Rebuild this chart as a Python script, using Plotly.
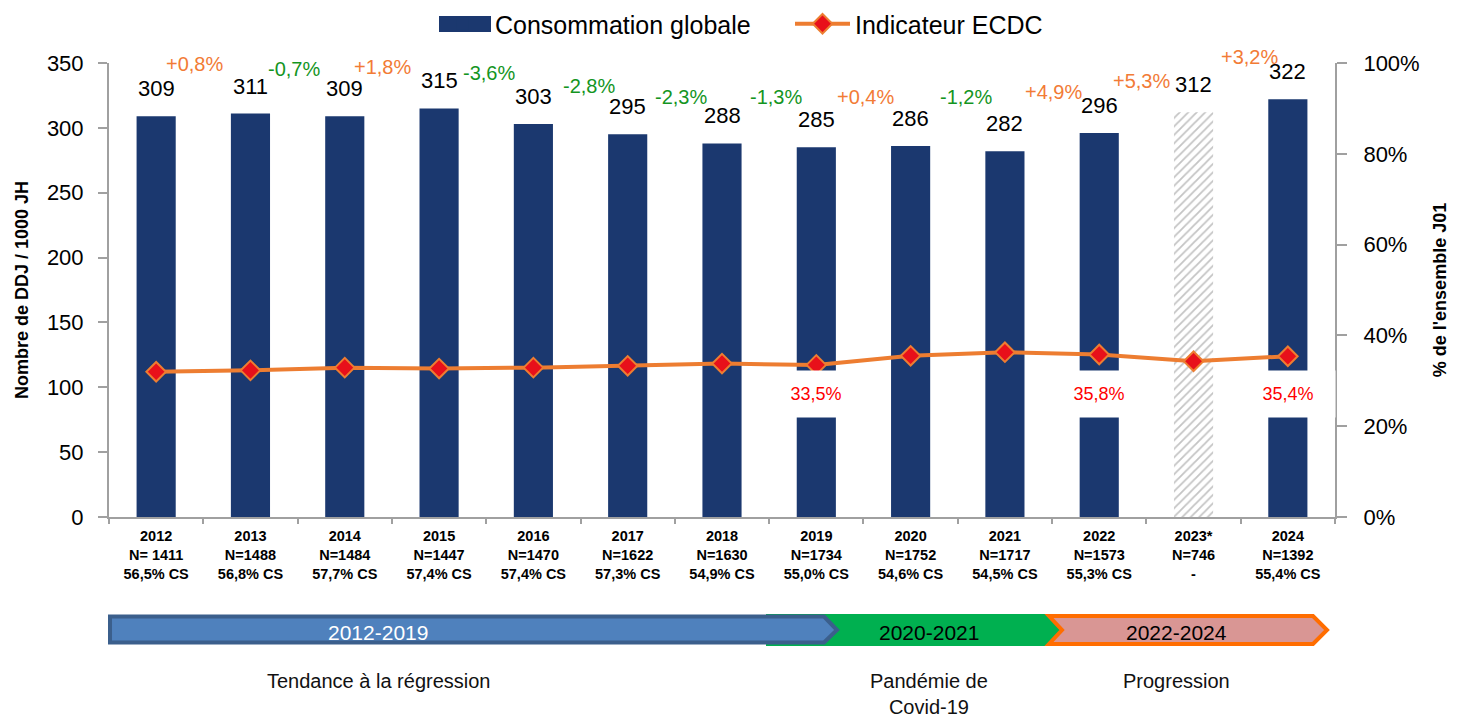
import plotly.graph_objects as go

# ---------------- data ----------------
years = ["2012", "2013", "2014", "2015", "2016", "2017", "2018",
         "2019", "2020", "2021", "2022", "2023*", "2024"]
n_sejours = ["N= 1411", "N=1488", "N=1484", "N=1447", "N=1470", "N=1622", "N=1630",
             "N=1734", "N=1752", "N=1717", "N=1573", "N=746", "N=1392"]
pct_cs = ["56,5% CS", "56,8% CS", "57,7% CS", "57,4% CS", "57,4% CS", "57,3% CS", "54,9% CS",
          "55,0% CS", "54,6% CS", "54,5% CS", "55,3% CS", "-", "55,4% CS"]
consommation = [309, 311, 309, 315, 303, 295, 288, 285, 286, 282, 296, 312, 322]
indicateur_ecdc = [0.320, 0.323, 0.329, 0.327, 0.329, 0.333, 0.338,
                   0.335, 0.355, 0.363, 0.358, 0.343, 0.354]
evolution = ["+0,8%", "-0,7%", "+1,8%", "-3,6%", "-2,8%", "-2,3%",
             "-1,3%", "+0,4%", "-1,2%", "+4,9%", "+5,3%", "+3,2%"]
ecdc_label_years = ["2019", "2022", "2024"]
ecdc_label_text = ["33,5%", "35,8%", "35,4%"]
partial_year = "2023*"
period_names = ["2012-2019", "2020-2021", "2022-2024"]
period_desc = ["Tendance à la régression", "Pandémie de<br>Covid-19", "Progression"]

# ---------------- layout helpers (label placement) ----------------
evo_x_offset = [0.41, 0.46, 0.40, 0.53, 0.59, 0.56, 0.57, 0.52, 0.59, 0.51, 0.45, 0.59]
evo_y_level = [349, 345, 347, 342, 332, 324, 324, 324, 324, 328, 336, 355]

NAVY = "#1b386f"
ORANGE = "#ed7d31"
UP = "#f27b36"
DOWN = "#14951f"
AXIS = "#a0a0a0"
FONT = "Liberation Sans, Arial, sans-serif"

OFF = 8                     # page body margin of the html page
W, H = 1457 - OFF, 721 - OFF
PL, PR, PT, PB = 109, 1335, 63, 517   # plot area in page pixels
YMAX = 350


def px(x):
    return (x - PL) / (PR - PL)


def py(y):
    return (PB - y) / (PB - PT)


def path(points):
    return "M " + " L ".join(f"{px(a):.5f},{py(b):.5f}" for a, b in points) + " Z"


idx = {y: i for i, y in enumerate(years)}
bar_colors = ["#c4c4c4" if y == partial_year else NAVY for y in years]
bar_shapes = ["/" if y == partial_year else "" for y in years]
ticktext = [f"<b>{y}<br>{n}<br>{c}</b>" for y, n, c in zip(years, n_sejours, pct_cs)]

fig = go.Figure()
fig.add_trace(go.Bar(
    x=years, y=consommation, name="Consommation globale",
    marker=dict(color=bar_colors, line=dict(width=0),
                pattern=dict(shape=bar_shapes, bgcolor="white", size=6, solidity=0.3,
                             fillmode="replace")),
    yaxis="y", hoverinfo="x+y", legend="legend",
))
fig.add_trace(go.Scatter(
    x=years, y=indicateur_ecdc, name="Indicateur ECDC", yaxis="y2",
    mode="lines+markers", legend="legend2",
    line=dict(color=ORANGE, width=4),
    marker=dict(symbol="diamond", size=15, color="#e8101a", line=dict(color=ORANGE, width=2)),
))

annotations = []
# value labels above bars
for i, v in enumerate(consommation):
    annotations.append(dict(x=i, y=v, xref="x", yref="y", text=str(v), showarrow=False,
                            yanchor="bottom", yshift=13,
                            font=dict(size=22, color="black", family=FONT)))
# evolution labels
for i, t in enumerate(evolution):
    lvl = evo_y_level[i]
    annotations.append(dict(x=i + evo_x_offset[i], y=min(lvl, YMAX), xref="x", yref="y", text=t,
                            showarrow=False, yanchor="middle",
                            yshift=max(0, lvl - YMAX) * (PB - PT) / YMAX,
                            font=dict(size=20, color=UP if t.startswith("+") else DOWN, family=FONT)))
# ECDC labels with white background
for y, t in zip(ecdc_label_years, ecdc_label_text):
    annotations.append(dict(x=idx[y], y=0.272, xref="x", yref="y2", text=t, showarrow=False,
                            yanchor="middle",
                            bgcolor="white", width=94, height=46, borderpad=0,
                            font=dict(size=18, color="#ff0000", family=FONT)))

# timeline arrows
shapes = []
green = [(766, 614), (1048, 614), (1063, 630), (1048, 646), (766, 646)]
blue = [(110, 616.5), (824, 616.5), (837, 630), (824, 642.5), (110, 642.5)]
pink = [(1049, 616), (1313, 616), (1327, 630), (1313, 644), (1049, 644), (1062, 630)]
shapes.append(dict(type="path", xref="paper", yref="paper", path=path(green),
                   fillcolor="#00b050", line=dict(color="#00b050", width=0), layer="above"))
shapes.append(dict(type="path", xref="paper", yref="paper", path=path(blue),
                   fillcolor="#4f81bd", line=dict(color="#3b5f8c", width=4), layer="above"))
shapes.append(dict(type="path", xref="paper", yref="paper", path=path(pink),
                   fillcolor="#d99694", line=dict(color="#ff6d00", width=4), layer="above"))
# wide legend swatch for the bars (behind the legend's own square)
shapes.append(dict(type="rect", xref="paper", yref="paper",
                   x0=px(439), x1=px(491), y0=py(32), y1=py(16),
                   fillcolor=NAVY, line=dict(width=0), layer="above"))

period_x = [378, 929, 1176]
period_col = ["white", "black", "black"]
for name, d, xx, col in zip(period_names, period_desc, period_x, period_col):
    annotations.append(dict(x=px(xx), y=py(632), xref="paper", yref="paper", text=name,
                            showarrow=False, yanchor="middle", xanchor="center",
                            font=dict(size=21, color=col, family=FONT)))
    annotations.append(dict(x=px(xx), y=py(668), xref="paper", yref="paper", text=d,
                            showarrow=False, yanchor="top", xanchor="center", align="center",
                            font=dict(size=20, color="#111111", family=FONT)))

legend_style = dict(orientation="h", xanchor="left", y=py(24), yanchor="middle",
                    font=dict(size=25, family=FONT, color="black"), itemwidth=55,
                    bgcolor="rgba(0,0,0,0)", borderwidth=0)

fig.update_layout(
    width=W, height=H,
    margin=dict(l=PL - OFF, r=1457 - PR, t=PT - OFF, b=721 - PB, pad=0, autoexpand=False),
    plot_bgcolor="white", paper_bgcolor="white",
    bargap=0.585,
    showlegend=True,
    legend=dict(x=px(430), **legend_style),
    legend2=dict(x=px(790), **legend_style),
    xaxis=dict(type="category", categoryorder="array", categoryarray=years, automargin=False,
               range=[-0.5, 12.5], tickvals=years, ticktext=ticktext,
               tickfont=dict(size=14.5, family=FONT, color="black"),
               showline=True, linecolor=AXIS, linewidth=2, ticklabelstandoff=5,
               ticks="outside", tickson="boundaries", ticklen=5, tickcolor=AXIS, tickwidth=2,
               showgrid=False, zeroline=False),
    yaxis=dict(range=[0, YMAX], dtick=50, tickfont=dict(size=22, family=FONT, color="black"),
               showline=True, linecolor=AXIS, linewidth=2, automargin=False,
               ticks="outside", ticklen=9, tickcolor=AXIS, tickwidth=2, ticklabelstandoff=10,
               showgrid=False, zeroline=False,
               title=dict(text="<b>Nombre de DDJ / 1000 JH</b>",
                          font=dict(size=18, family=FONT, color="black"), standoff=14)),
    yaxis2=dict(range=[0, 1], dtick=0.2, tickformat=".0%", overlaying="y", side="right",
                tickfont=dict(size=22, family=FONT, color="black"), automargin=False,
                showline=True, linecolor=AXIS, linewidth=2,
                ticks="outside", ticklen=10, tickcolor=AXIS, tickwidth=2, ticklabelstandoff=12,
                showgrid=False, zeroline=False,
                title=dict(text="<b>% de l'ensemble J01</b>",
                           font=dict(size=18, family=FONT, color="black"), standoff=15)),
    annotations=annotations,
    shapes=shapes,
)

fig.write_html("out.html")
